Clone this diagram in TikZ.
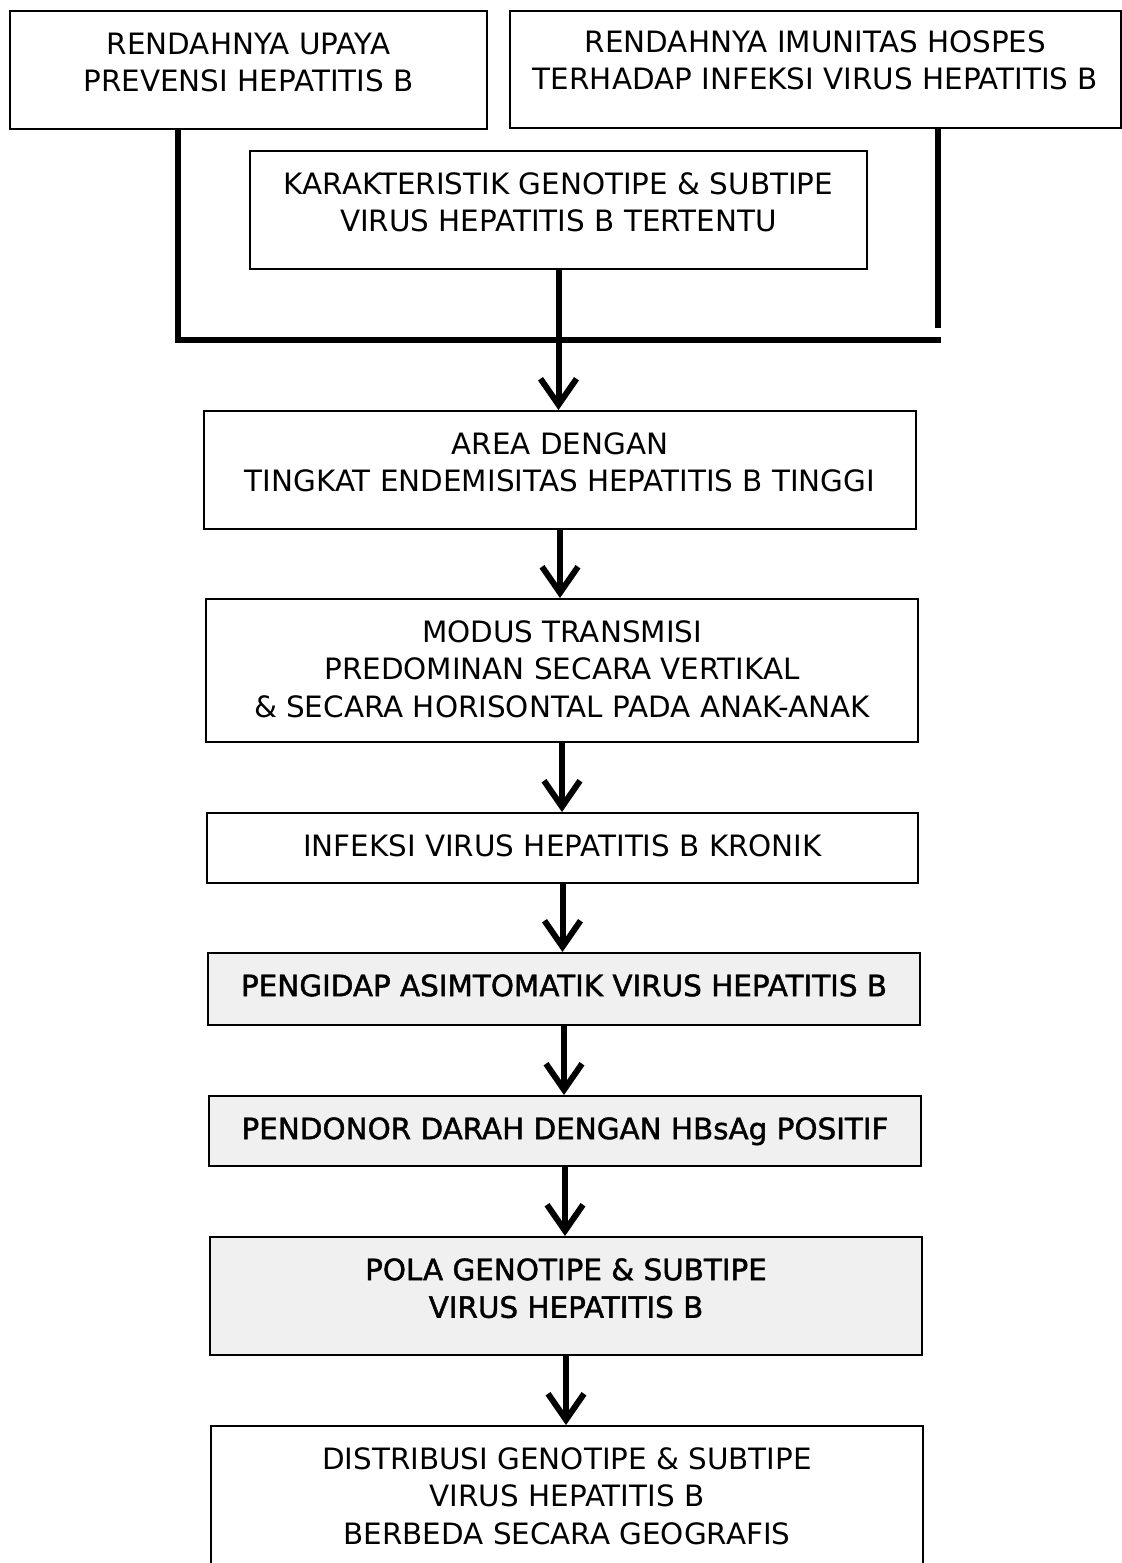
\documentclass[tikz,border=0pt]{standalone}
\usepackage{fontspec}
\setmainfont{DejaVu Sans}
\newfontfamily\heavyfont{DejaVu Sans}[FakeBold=1.5]
\usetikzlibrary{arrows.meta}
\begin{document}
\begin{tikzpicture}[x=0.5pt,y=-0.5pt,
  box/.style={draw=black, line width=0.75pt, anchor=north, align=center,
    inner xsep=4pt, inner ysep=11pt, text height=10.7pt,
    font=\fontsize{14.7pt}{18.8pt}\selectfont},
  twol/.style={text height=29.5pt},
  threel/.style={text height=48.3pt},
  shaded/.style={fill=black!6, font=\heavyfont\fontsize{14.7pt}{18.8pt}\selectfont},
  bar/.style={line width=3pt},
  arr/.style={line width=3pt, -{Straight Barb[length=13pt,width=18pt,line width=3pt]}}]
\useasboundingbox (0,0) rectangle (1122,1563);
\fill[white] (0,0) rectangle (1122,1563);

\node[box, twol, minimum width=238.5pt, text depth=7.5pt] (b1) at (248.5,10) {RENDAHNYA UPAYA\\PREVENSI HEPATITIS B};
\node[box, twol, minimum width=305.5pt, text depth=9pt, inner ysep=10pt] (b2) at (815.5,10) {RENDAHNYA IMUNITAS HOSPES\\TERHADAP INFEKSI VIRUS HEPATITIS B};
\node[box, twol, minimum width=308.5pt, text depth=7.5pt] (b3) at (558.5,150) {KARAKTERISTIK GENOTIPE \& SUBTIPE\\VIRUS HEPATITIS B TERTENTU};
\node[box, twol, minimum width=356pt, text depth=7.5pt] (b4) at (560,410) {AREA DENGAN\\TINGKAT ENDEMISITAS HEPATITIS B TINGGI};
\node[box, threel, minimum width=356pt, text depth=1.2pt] (b5) at (562,598) {MODUS TRANSMISI\\PREDOMINAN SECARA VERTIKAL\\\& SECARA HORISONTAL PADA ANAK-ANAK};
\node[box, minimum width=355.5pt, text depth=2.3pt] (b6) at (562.5,812) {INFEKSI VIRUS HEPATITIS B KRONIK};
\node[box, shaded, minimum width=356pt, text depth=3.3pt] (b7) at (564,952) {PENGIDAP ASIMTOMATIK VIRUS HEPATITIS B};
\node[box, shaded, minimum width=356pt, text depth=2.3pt] (b8) at (565,1095) {PENDONOR DARAH DENGAN HBsAg POSITIF};
\node[box, shaded, twol, minimum width=356pt, text depth=7.5pt] (b9) at (566,1236) {POLA GENOTIPE \& SUBTIPE\\VIRUS HEPATITIS B};
\node[box, threel, minimum width=356pt, text depth=1.2pt] (b10) at (567,1425) {DISTRIBUSI GENOTIPE \& SUBTIPE\\VIRUS HEPATITIS B\\BERBEDA SECARA GEOGRAFIS};

\coordinate (jl) at (178,340);
\coordinate (jr) at (941,340);
\coordinate (re) at (938,328);
\draw[bar] (b1.south -| jl) -- (jl) -- (jr);
\draw[bar] (b2.south -| re) -- (re);
\draw[arr] (b3.south) -- (b3.south |- b4.north);
\draw[arr] (b4.south) -- (b4.south |- b5.north);
\draw[arr] (b5.south) -- (b5.south |- b6.north);
\draw[arr] (b6.south) -- (b6.south |- b7.north);
\draw[arr] (b7.south) -- (b7.south |- b8.north);
\draw[arr] (b8.south) -- (b8.south |- b9.north);
\draw[arr] (b9.south) -- (b9.south |- b10.north);
\end{tikzpicture}
\end{document}
